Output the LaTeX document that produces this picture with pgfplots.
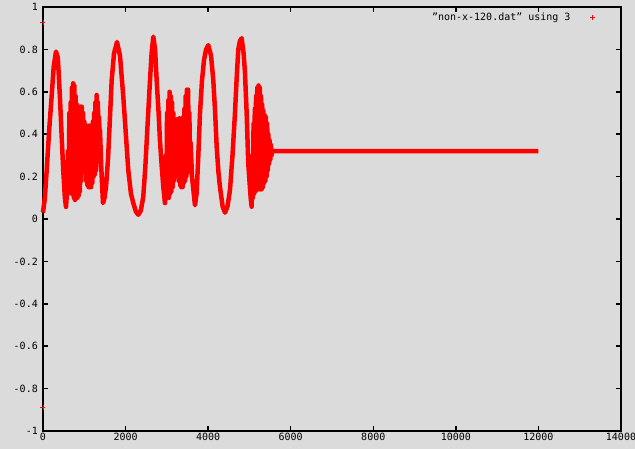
\documentclass[border=0pt]{standalone}
\usepackage{fontspec}
\setmainfont{DejaVu Sans Mono}
\usepackage{pgfplots}
\pgfplotsset{compat=1.18}
\usetikzlibrary{backgrounds,calc}
\definecolor{bg}{gray}{0.86}
\begin{document}
\begin{tikzpicture}
\begin{axis}[
  name=ax,
  scale only axis,
  width=578bp, height=424bp,
  xmin=0, xmax=14000, ymin=-1, ymax=1,
  xtick={0,2000,...,14000},
  ytick={-1,-0.8,...,1},
  scaled x ticks=false,
  /pgf/number format/assume math mode=true,
  xticklabel style={/pgf/number format/1000 sep={}, font=\fontsize{10bp}{12bp}\selectfont, inner sep=1.5bp},
  yticklabel style={/pgf/number format/fixed, font=\fontsize{10bp}{12bp}\selectfont, inner sep=5bp},
  tick align=inside,
  major tick length=5bp,
  tick style={black, line width=1.5bp},
  axis line style={black, line width=1.8bp},
  clip=false,
  legend style={draw=none, fill=none, anchor=east, at={(rel axis cs:0.958,0.975)},
    font=\fontsize{10bp}{12bp}\selectfont, inner sep=0pt},
  legend plot pos=right,
  legend cell align=right,
]
\addplot[red, line width=4.5bp, line join=round, forget plot] coordinates {
(0,0.03) (45,0.10) (90,0.23) (150,0.42) (210,0.58) (260,0.72) (315,0.79) (360,0.76)
(410,0.575) (450,0.40) (490,0.23) (530,0.10) (557,0.057) (580,0.12)
(605,0.32) (620,0.15) (640,0.50) (655,0.13) (670,0.55) (685,0.12) (700,0.62) (715,0.12)
(730,0.64) (745,0.10) (760,0.63) (775,0.09) (790,0.58) (805,0.10) (820,0.54) (835,0.10)
(850,0.52) (865,0.11) (880,0.52) (895,0.13) (910,0.53) (925,0.18) (940,0.53) (955,0.22)
(970,0.50) (985,0.25) (1000,0.46) (1015,0.22) (1030,0.44) (1045,0.18) (1060,0.44) (1075,0.16)
(1090,0.44) (1105,0.15) (1120,0.44) (1135,0.15) (1150,0.44) (1165,0.15) (1180,0.44) (1195,0.17)
(1210,0.46) (1225,0.20) (1240,0.50) (1255,0.21) (1270,0.55) (1285,0.23) (1300,0.585) (1315,0.27)
(1330,0.55) (1345,0.32) (1360,0.48) (1370,0.36)
(1380,0.42) (1410,0.25) (1453,0.075) (1490,0.10) (1526,0.15) (1574,0.28) (1620,0.47) (1664,0.655)
(1720,0.78) (1792,0.835) (1865,0.77) (1945,0.577) (2000,0.42) (2066,0.23) (2130,0.12) (2187,0.075)
(2250,0.035) (2308,0.02) (2370,0.04) (2429,0.105) (2480,0.25) (2526,0.42) (2592,0.655) (2630,0.78)
(2672,0.86) (2715,0.80) (2753,0.655) (2800,0.50) (2833,0.37) (2875,0.25) (2914,0.152) (2955,0.075)
(2975,0.30) (2990,0.10) (3005,0.50) (3020,0.10) (3035,0.56) (3050,0.10) (3065,0.60) (3080,0.12)
(3095,0.58) (3110,0.13) (3125,0.55) (3140,0.15) (3155,0.50) (3170,0.18) (3185,0.47) (3200,0.20)
(3215,0.46) (3230,0.24) (3245,0.47) (3260,0.22) (3275,0.47) (3290,0.18) (3305,0.475) (3320,0.16)
(3335,0.47) (3350,0.15) (3365,0.46) (3380,0.15) (3395,0.48) (3410,0.17) (3425,0.52) (3440,0.18)
(3455,0.58) (3470,0.20) (3485,0.61) (3500,0.22) (3515,0.61) (3530,0.26) (3545,0.50) (3560,0.30)
(3575,0.36) (3609,0.20) (3681,0.065) (3720,0.12) (3754,0.26) (3803,0.50) (3850,0.65) (3900,0.75)
(3950,0.80) (4004,0.82) (4070,0.77) (4125,0.655) (4170,0.50) (4207,0.34) (4250,0.22) (4287,0.15)
(4350,0.06) (4408,0.03) (4470,0.06) (4529,0.137) (4590,0.30) (4650,0.50) (4690,0.66) (4730,0.80)
(4770,0.84) (4812,0.853) (4860,0.78) (4892,0.69) (4933,0.50) (4972,0.26) (5030,0.10) (5054,0.058)
(5070,0.30) (5085,0.10) (5100,0.45) (5115,0.12) (5130,0.52) (5145,0.13) (5160,0.58) (5175,0.14)
(5190,0.62) (5205,0.14) (5220,0.63) (5235,0.14) (5250,0.62) (5265,0.14) (5280,0.58) (5295,0.14)
(5310,0.54) (5325,0.15) (5340,0.51) (5355,0.17) (5370,0.49) (5385,0.18) (5400,0.48) (5415,0.20)
(5430,0.45) (5445,0.23) (5460,0.40) (5475,0.26) (5490,0.37) (5505,0.28) (5520,0.35) (5535,0.30)
(5547,0.32) (12000,0.32)
};
\addplot[red, only marks, mark=+, mark size=2.5bp, line width=0.8bp, forget plot] coordinates {(0,0.925) (0,-0.89)};
\addlegendimage{legend image code/.code={%
  \path[draw=none] (0bp,0bp) -- (24bp,0bp);
  \path[draw=none] plot[mark=+, mark size=2.5bp, mark options={draw=red, line width=0.8bp}] coordinates {(20bp,0bp)};}}
\addlegendentry{\char34 non-x-120.dat\char34{} using 3}
\end{axis}
\begin{pgfonlayer}{background}
\fill[bg] ($(ax.south west)+(-43bp,-18bp)$) rectangle ($(ax.north east)+(14bp,7bp)$);
\end{pgfonlayer}
\pgfresetboundingbox
\path[use as bounding box] ($(ax.south west)+(-43bp,-18bp)$) rectangle ($(ax.north east)+(14bp,7bp)$);
\end{tikzpicture}
\end{document}
